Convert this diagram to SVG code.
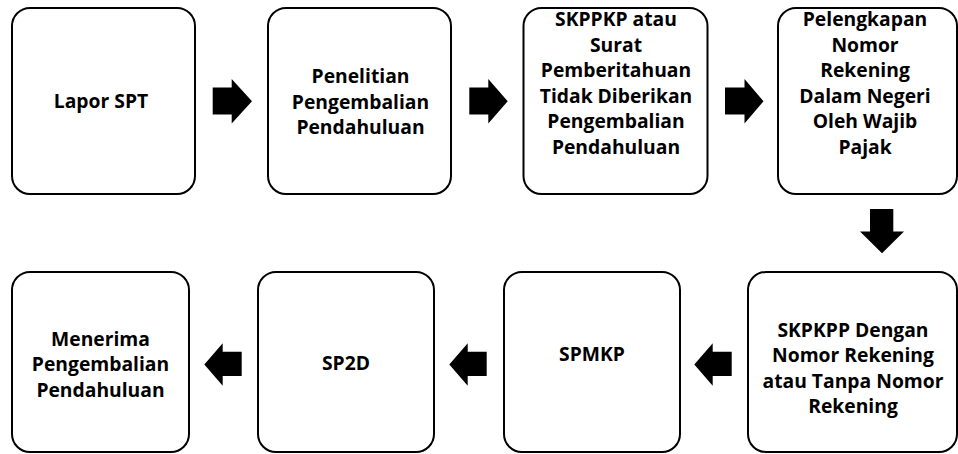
<svg xmlns="http://www.w3.org/2000/svg" width="958" height="454" viewBox="0 0 958 454">
<style>
.box{fill:#fff;stroke:#000;stroke-width:2}
.lbl{font-family:"Open Sans","Liberation Sans",sans-serif;font-weight:bold;font-size:19.3px;fill:#000;text-anchor:middle}
.arr{fill:#000;stroke:none}
</style>
<rect width="958" height="454" fill="#fff"/>
<g id="n1"><rect class="box" x="12" y="8" width="183" height="186" rx="18"/>
<text class="lbl" x="101" y="108">Lapor SPT</text></g>
<g id="n2"><rect class="box" x="268" y="8" width="183" height="186" rx="18"/>
<text class="lbl"><tspan x="360.5" y="83">Penelitian</tspan><tspan x="360.5" y="108.5">Pengembalian</tspan><tspan x="360.5" y="134">Pendahuluan</tspan></text></g>
<g id="n3"><rect class="box" x="523.5" y="8" width="184" height="186" rx="18"/>
<text class="lbl"><tspan x="616" y="26">SKPPKP atau</tspan><tspan x="616" y="51.5">Surat</tspan><tspan x="616" y="77">Pemberitahuan</tspan><tspan x="616" y="102.5">Tidak Diberikan</tspan><tspan x="616" y="128">Pengembalian</tspan><tspan x="616" y="153.5">Pendahuluan</tspan></text></g>
<g id="n4"><rect class="box" x="778" y="8" width="179" height="186" rx="18"/>
<text class="lbl"><tspan x="865" y="26">Pelengkapan</tspan><tspan x="865" y="51.5">Nomor</tspan><tspan x="865" y="77">Rekening</tspan><tspan x="865" y="102.5">Dalam Negeri</tspan><tspan x="865" y="128">Oleh Wajib</tspan><tspan x="865" y="153.5">Pajak</tspan></text></g>
<g id="n5"><rect class="box" x="748" y="272" width="209" height="180" rx="18"/>
<text class="lbl"><tspan x="853" y="336.5">SKPKPP Dengan</tspan><tspan x="853" y="362">Nomor Rekening</tspan><tspan x="853" y="387.5">atau Tanpa Nomor</tspan><tspan x="853" y="413">Rekening</tspan></text></g>
<g id="n6"><rect class="box" x="504" y="272" width="176" height="180" rx="18"/>
<text class="lbl" x="592" y="361">SPMKP</text></g>
<g id="n7"><rect class="box" x="258" y="272" width="176" height="180" rx="18"/>
<text class="lbl" x="346" y="370">SP2D</text></g>
<g id="n8"><rect class="box" x="12" y="272" width="177" height="180" rx="18"/>
<text class="lbl"><tspan x="100.5" y="345.5">Menerima</tspan><tspan x="100.5" y="371">Pengembalian</tspan><tspan x="100.5" y="396.5">Pendahuluan</tspan></text></g>
<g id="connectors">
<polygon class="arr" points="212.7,87.5 231.7,87.5 231.7,79 252,101.2 231.7,123.5 231.7,114.5 212.7,114.5"/>
<polygon class="arr" points="469.3,87.5 488.3,87.5 488.3,79 507.7,101.2 488.3,123.5 488.3,114.5 469.3,114.5"/>
<polygon class="arr" points="725,87.5 744.5,87.5 744.5,79 763.5,101.2 744.5,123.5 744.5,114.5 725,114.5"/>
<polygon class="arr" points="870,209 893.3,209 893.3,231.5 904,231.5 882,253.3 860,231.5 870,231.5"/>
<polygon class="arr" points="731.7,351.7 712.7,351.7 712.7,343.3 694.3,364.5 712.7,385.7 712.7,376 731.7,376"/>
<polygon class="arr" points="486.7,351.7 467.7,351.7 467.7,343.3 449.3,364.5 467.7,385.7 467.7,376 486.7,376"/>
<polygon class="arr" points="241.7,351.7 222.7,351.7 222.7,343.3 204.3,364.5 222.7,385.7 222.7,376 241.7,376"/>
</g>
</svg>
